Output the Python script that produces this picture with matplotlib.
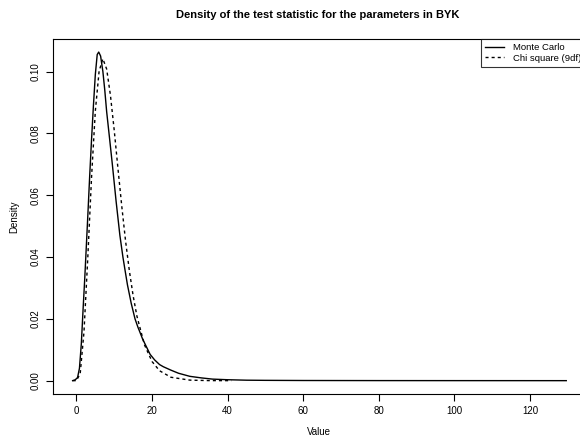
import matplotlib
matplotlib.use("Agg")
import matplotlib.pyplot as plt

plt.rcParams['font.family'] = ['Liberation Sans', 'DejaVu Sans']

# Monte Carlo density
mc_x = [-1.0, -0.3, 0.3, 0.8, 1.3, 1.8, 2.2, 2.6, 3.0, 3.5, 4.0, 4.5, 5.0, 5.5,
        5.9, 6.4, 7.0, 7.5, 8.0, 8.8, 9.5, 10.5, 11.5, 12.3, 12.8, 13.5, 14.5,
        15.5, 16.3, 16.6, 17.5, 18.5, 19.5, 20.7, 22, 23, 25, 27, 30, 33, 36,
        40, 45, 50, 60, 80, 100, 129.6]
mc_y = [0.0, 0.0003, 0.001, 0.004, 0.012, 0.024, 0.033, 0.043, 0.053, 0.066,
        0.078, 0.089, 0.099, 0.1055, 0.1063, 0.105, 0.100, 0.094, 0.087, 0.078,
        0.070, 0.058, 0.047, 0.040, 0.0362, 0.031, 0.025, 0.020, 0.0172, 0.0163,
        0.0135, 0.011, 0.0085, 0.0067, 0.0052, 0.0045, 0.0034, 0.0024, 0.0014,
        0.0009, 0.0005, 0.0003, 0.00015, 0.0001, 0.00005, 0.00002, 0.00001, 0.0]

# Chi square (9df) reference curve
chi_x = [-1, 0, 1, 2, 3, 4, 5, 6, 7, 8, 9, 10, 11, 12, 13, 14, 15, 16, 18, 20,
         22, 25, 30, 35, 41]
chi_y = [0.0, 0.0, 0.0023, 0.0158, 0.0396, 0.0658, 0.0872, 0.1001, 0.1041,
         0.1008, 0.0923, 0.0810, 0.0685, 0.0564, 0.0452, 0.0356, 0.0275, 0.0209,
         0.0116, 0.0062, 0.0032, 0.0011, 0.00017, 0.00002, 0.0]

W, H = 580, 441
fig = plt.figure(figsize=(W / 100, H / 100), dpi=100)
# plot region runs a little past the right edge, like the cropped original
ax = fig.add_axes([52.9 / W, 1 - 393.8 / H, (586 - 52.9) / W, (393.8 - 38.9) / H])

ax.plot(mc_x, mc_y, color='black', lw=1.0, label='Monte Carlo')
ax.plot(chi_x, chi_y, color='black', lw=1.0, linestyle=(0, (2.2, 2.2)),
        label='Chi square (9df)')

# R style 4% padding
x0, x1 = min(mc_x), max(mc_x)
y0, y1 = 0.0, max(mc_y)
ax.set_xlim(x0 - 0.04 * (x1 - x0), x1 + 0.04 * (x1 - x0))
ax.set_ylim(y0 - 0.04 * (y1 - y0), y1 + 0.04 * (y1 - y0))

ax.set_xticks([0, 20, 40, 60, 80, 100, 120])
ax.set_yticks([0.0, 0.02, 0.04, 0.06, 0.08, 0.10])
ax.set_yticklabels(['0.00', '0.02', '0.04', '0.06', '0.08', '0.10'],
                   rotation=90, va='center')
ax.tick_params(direction='out', length=5, width=0.8, labelsize=7, pad=4)
for s in ax.spines.values():
    s.set_linewidth(0.8)

ax.set_xlabel('Value', fontsize=7, labelpad=8)
ax.set_ylabel('Density', fontsize=7, labelpad=8)
fig.text(318 / W, 1 - 15 / H, 'Density of the test statistic for the parameters in BYK',
         ha='center', va='center', fontsize=8, fontweight='bold')

leg = ax.legend(loc='upper right', fontsize=6.8, frameon=True, fancybox=False,
                edgecolor='black', borderaxespad=0, borderpad=0.45,
                labelspacing=0.15, handlelength=2.0, handletextpad=1.0)
leg.get_frame().set_linewidth(0.8)

fig.savefig('out.png', dpi=100)
